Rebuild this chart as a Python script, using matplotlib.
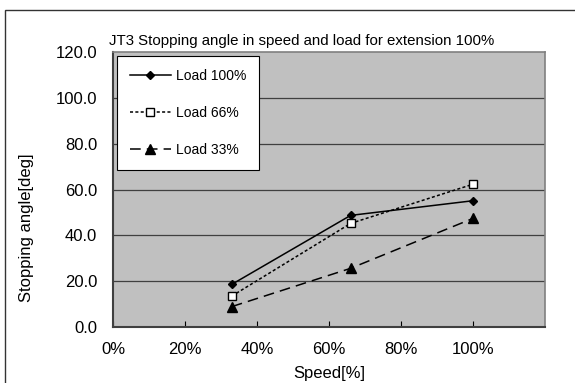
import numpy as np
import matplotlib.pyplot as plt
from matplotlib.patches import Rectangle
from matplotlib.ticker import FuncFormatter

# data
speed = [0.33, 0.66, 1.0]
load100 = [18.6, 48.7, 55.1]
load66 = [13.5, 45.2, 62.3]
load33 = [8.9, 25.6, 47.4]
labels = ['Load 100%', 'Load 66%', 'Load 33%']

plt.rcParams['font.family'] = ['Liberation Sans', 'DejaVu Sans']

fig = plt.figure(figsize=(5.75, 3.83), dpi=100)
ax = fig.add_axes([113/575, 1-327/383, 432/575, 275/383])
ax.set_facecolor('#c0c0c0')

# outer chart border
fig.patches.append(Rectangle((5/575, -0.1), 1.1, (383-10.5)/383+0.1, transform=fig.transFigure,
                             fill=False, edgecolor='#333333', linewidth=1.0))

ax.plot(speed, load100, color='black', linestyle='-', linewidth=1.1,
        marker='D', markersize=4.2, label=labels[0])
ax.plot(speed, load66, color='black', linestyle=(0, (2, 1.5)), linewidth=1.1,
        marker='s', markersize=6, markerfacecolor='white', markeredgewidth=1.0, label=labels[1])
ax.plot(speed, load33, color='black', linestyle=(0, (7, 4)), linewidth=1.1,
        marker='^', markersize=6.5, label=labels[2])

ax.set_xlim(0, 1.2)
ax.set_ylim(0, 120)
ax.set_xticks(np.arange(0, 1.01, 0.2))
ax.set_yticks(np.arange(0, 121, 20))
ax.xaxis.set_major_formatter(FuncFormatter(lambda v, p: f'{v*100:.0f}%'))
ax.yaxis.set_major_formatter(FuncFormatter(lambda v, p: f'{v:.1f}'))
ax.tick_params(axis='x', direction='in', length=4, labelsize=12, pad=11)
ax.tick_params(axis='y', length=0, labelsize=12, pad=11.5)

for yv in range(20, 120, 20):
    ax.axhline(yv, color='#404040', linewidth=0.9, zorder=1)

for s in ['left', 'bottom']:
    ax.spines[s].set_color('#404040')
    ax.spines[s].set_linewidth(1.5)
for s in ['top', 'right']:
    ax.spines[s].set_color('#808080')
    ax.spines[s].set_linewidth(1.2)

ax.set_title('JT3 Stopping angle in speed and load for extension 100%', fontsize=10.8, pad=5, x=0.436)
ax.set_xlabel('Speed[%]', fontsize=12, labelpad=6)
ax.set_ylabel('Stopping angle[deg]', fontsize=12)
ax.yaxis.set_label_coords(-0.184, 0.36)

leg = ax.legend(loc='upper left', bbox_to_anchor=(0.0093, 0.985), borderaxespad=0,
                fontsize=10, fancybox=False,
                framealpha=1, edgecolor='black', handlelength=3.0, labelspacing=1.67,
                borderpad=0.9, handletextpad=0.36)
leg.get_frame().set_linewidth(0.8)

fig.savefig('out.png', dpi=100)
